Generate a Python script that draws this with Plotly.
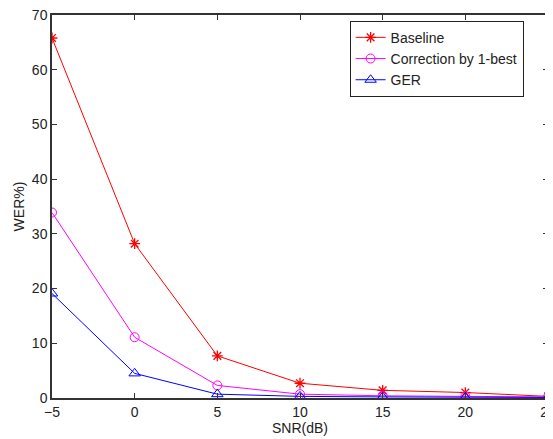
import plotly.graph_objects as go

## Data
snr = [-5, 0, 5, 10, 15, 20, 25]
baseline = [65.8, 28.2, 7.7, 2.7, 1.4, 1.0, 0.3]
correction = [33.9, 11.1, 2.3, 0.7, 0.4, 0.3, 0.2]
ger = [19.1, 4.5, 0.7, 0.3, 0.2, 0.1, 0.1]

fig = go.Figure()

fig.add_trace(go.Scatter(
    x=snr, y=baseline, name="Baseline", mode="lines+markers",
    line=dict(color="#ff0000", width=1),
    marker=dict(symbol="asterisk-open", size=9, color="#ff0000", line=dict(width=1.3, color="#ff0000"))
))
fig.add_trace(go.Scatter(
    x=snr, y=correction, name="Correction by 1-best", mode="lines+markers",
    line=dict(color="#ff00ff", width=1),
    marker=dict(symbol="circle-open", size=9, color="#ff00ff", line=dict(width=1, color="#ff00ff"))
))
fig.add_trace(go.Scatter(
    x=snr, y=ger, name="GER", mode="lines+markers",
    line=dict(color="#0000ff", width=1),
    marker=dict(symbol="triangle-up-open", size=10, color="#0000ff", line=dict(width=1, color="#0000ff"))
))

axis_style = dict(
    showgrid=False, zeroline=False, showline=True, linecolor="#333333", linewidth=1.5,
    mirror="ticks", ticks="inside", ticklen=5, tickcolor="#333333",
    tickfont=dict(family="Arial, Liberation Sans", size=14, color="#222222"),
    ticklabeloverflow="allow",
)

# page body adds an 8px offset; the figure runs past the window edge like the original
fig.update_layout(
    width=553, height=439,
    margin=dict(l=44, r=13, t=7, b=49),
    plot_bgcolor="white", paper_bgcolor="white",
    font=dict(family="Arial, Liberation Sans", size=14, color="#222222"),
    xaxis=dict(range=[-5, 25], tickvals=snr, automargin=False, **axis_style,
               title=dict(text="SNR(dB)", standoff=2, font=dict(size=14))),
    yaxis=dict(range=[0, 70], dtick=10, automargin=False, **axis_style,
               title=dict(text="WER%)", standoff=4, font=dict(size=14))),
    legend=dict(x=0.6, y=0.985, xanchor="left", yanchor="top",
                bordercolor="#222222", borderwidth=1, bgcolor="white",
                font=dict(size=14), tracegroupgap=0, itemwidth=30),
    showlegend=True,
)

fig.write_html("out.html")
